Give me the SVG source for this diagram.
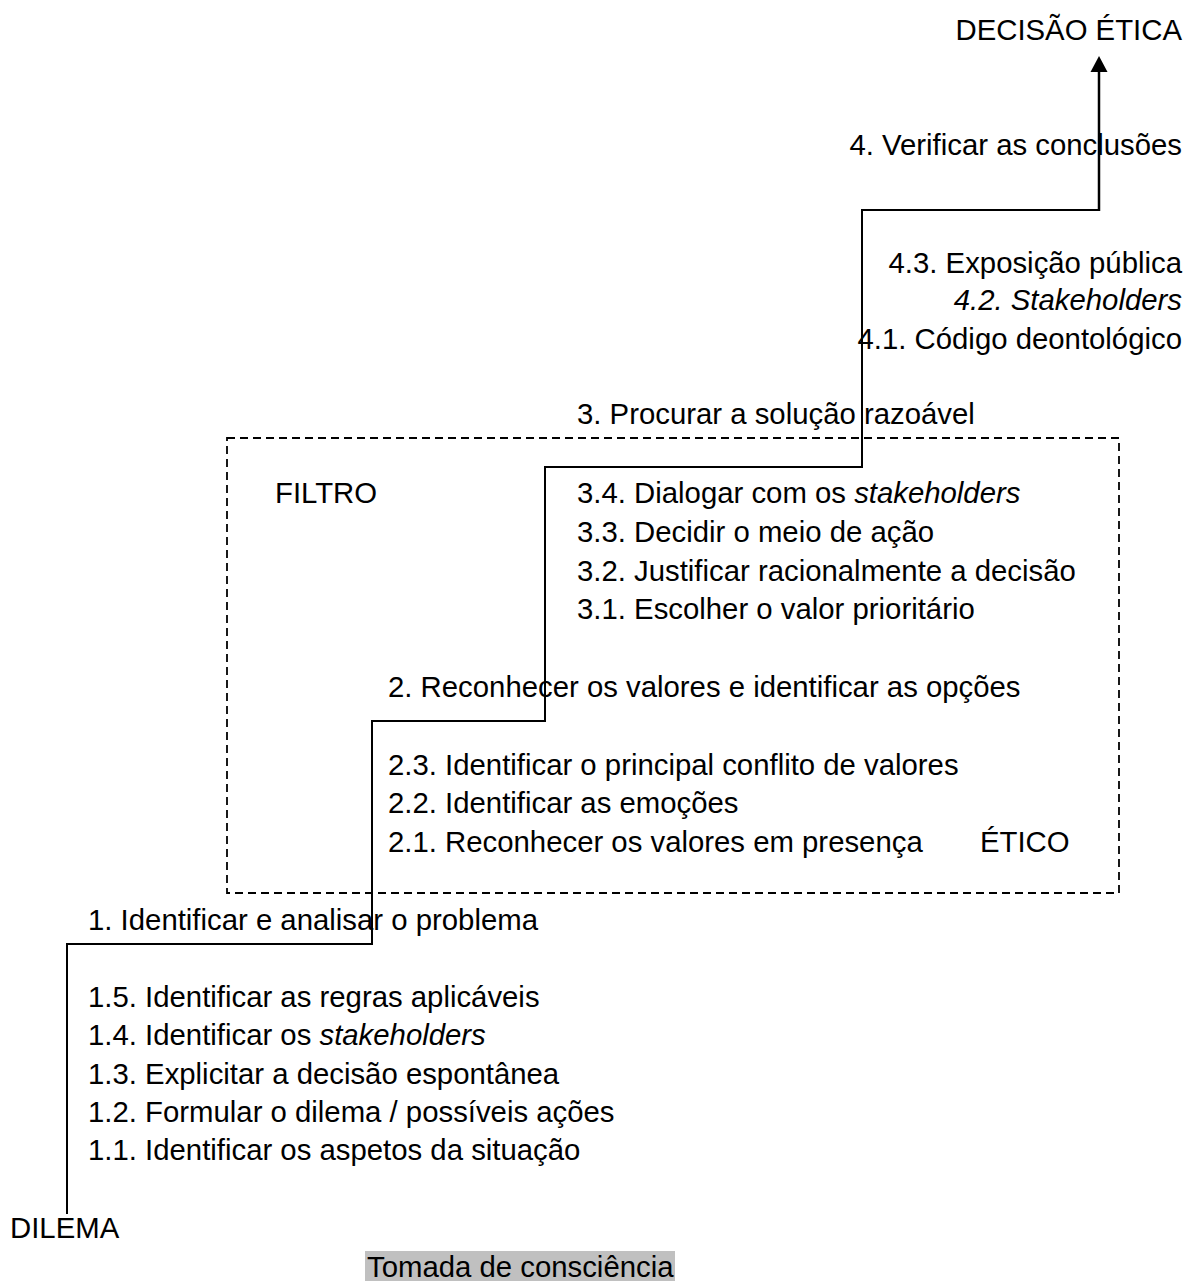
<svg xmlns="http://www.w3.org/2000/svg" width="1185" height="1281" viewBox="0 0 1185 1281">
  <style>
    text { font-family: "Liberation Sans", Arial, sans-serif; font-size: 29.33px; fill: #000; }
    .r { text-anchor: end; }
    .i { font-style: italic; }
    .step { fill: none; stroke: #000; stroke-width: 2; }
    .shaft { fill: none; stroke: #000; stroke-width: 2.5; }
    .filter { fill: none; stroke: #000; stroke-width: 1.8; stroke-dasharray: 8 5; }
  </style>
  <rect width="1185" height="1281" fill="#fff"/>

  <g id="filtro-box">
    <rect class="filter" x="227" y="438" width="892" height="455"/>
  </g>

  <g id="connectors">
    <path class="step" d="M67,1214 V944 H372 V721 H545 V467 H862 V210 H1099"/>
    <path class="shaft" d="M1099,211 V70"/>
    <polygon points="1099,56 1090.5,72 1107.5,72" fill="#000"/>
  </g>

  <g id="decisao-etica"><text class="r" x="1182" y="40">DECISÃO ÉTICA</text></g>

  <g id="step4">
    <text class="r" x="1182" y="155">4. Verificar as conclusões</text>
    <text class="r" x="1182" y="273">4.3. Exposição pública</text>
    <text class="r i" x="1182" y="310">4.2. Stakeholders</text>
    <text class="r" x="1182" y="349">4.1. Código deontológico</text>
  </g>

  <g id="step3">
    <text x="577" y="424">3. Procurar a solução razoável</text>
    <text x="577" y="503">3.4. Dialogar com os <tspan class="i">stakeholders</tspan></text>
    <text x="577" y="542">3.3. Decidir o meio de ação</text>
    <text x="577" y="581">3.2. Justificar racionalmente a decisão</text>
    <text x="577" y="619">3.1. Escolher o valor prioritário</text>
  </g>

  <g id="filtro"><text x="275" y="503">FILTRO</text></g>
  <g id="etico"><text x="980" y="852">ÉTICO</text></g>

  <g id="step2">
    <text x="388" y="697">2. Reconhecer os valores e identificar as opções</text>
    <text x="388" y="775">2.3. Identificar o principal conflito de valores</text>
    <text x="388" y="813">2.2. Identificar as emoções</text>
    <text x="388" y="852">2.1. Reconhecer os valores em presença</text>
  </g>

  <g id="step1">
    <text x="88" y="930">1. Identificar e analisar o problema</text>
    <text x="88" y="1007">1.5. Identificar as regras aplicáveis</text>
    <text x="88" y="1045">1.4. Identificar os <tspan class="i">stakeholders</tspan></text>
    <text x="88" y="1084">1.3. Explicitar a decisão espontânea</text>
    <text x="88" y="1122">1.2. Formular o dilema / possíveis ações</text>
    <text x="88" y="1160">1.1. Identificar os aspetos da situação</text>
  </g>

  <g id="dilema"><text x="10" y="1238">DILEMA</text></g>

  <g id="tomada">
    <rect x="365" y="1251" width="310" height="30" fill="#c0c0c0"/>
    <text x="367" y="1277">Tomada de consciência</text>
  </g>
</svg>
